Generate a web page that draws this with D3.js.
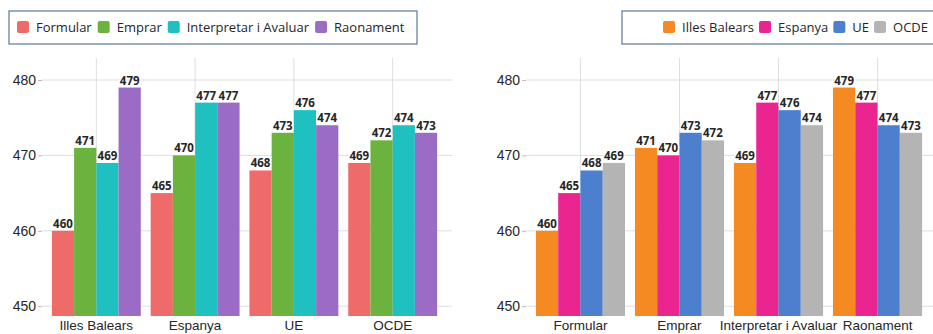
<!DOCTYPE html>
<html>
<head>
<meta charset="utf-8">
<script src="https://cdn.jsdelivr.net/npm/d3@7/dist/d3.min.js"></script>
<style>
  html, body { margin: 0; padding: 0; background: #fff; }
  svg { display: block; font-family: "Open Sans", "Noto Sans", sans-serif; }
</style>
</head>
<body>
<svg id="chart" width="933" height="334"></svg>
<script>
// Competència matemàtica: puntuacions per àmbit i per territori
const regions = ["Illes Balears", "Espanya", "UE", "OCDE"];
const skills = ["Formular", "Emprar", "Interpretar i Avaluar", "Raonament"];

// values per region, in the order of `skills`
const illesBalears = [460, 471, 469, 479];
const espanya = [465, 470, 477, 477];
const ue = [468, 473, 476, 474];
const ocde = [469, 472, 474, 473];

const yTicks = [450, 460, 470, 480];

const skillColors = ["#ef6b69", "#6cb23e", "#1fc0c0", "#9a6cc5"];
const regionColors = ["#f68a22", "#ea2590", "#4c80cf", "#b4b4b4"];

const regionValues = [illesBalears, espanya, ue, ocde];

const svg = d3.select("#chart");
const ink = "#262626";

function drawPanel(opts) {
  const g = svg.append("g");
  const { groups, series, colors, value, xRange, gridRight, legend } = opts;

  const y = d3.scaleLinear().domain([448.7, 480]).range([316, 80]);
  const x0 = d3.scaleBand().domain(groups).range(xRange).paddingInner(0.1).paddingOuter(0.1);
  const x1 = d3.scaleBand().domain(series).range([0, x0.bandwidth()]).padding(0);

  // horizontal grid
  g.append("g").selectAll("line").data(yTicks).join("line")
    .attr("x1", xRange[0]).attr("x2", gridRight)
    .attr("y1", d => y(d)).attr("y2", d => y(d))
    .attr("stroke", "#dedede").attr("stroke-width", 1);

  // vertical grid through group centres
  g.append("g").selectAll("line").data(groups).join("line")
    .attr("x1", d => x0(d) + x0.bandwidth() / 2).attr("x2", d => x0(d) + x0.bandwidth() / 2)
    .attr("y1", 58).attr("y2", 316)
    .attr("stroke", "#dedede").attr("stroke-width", 1);

  // y axis
  const yAxis = d3.axisLeft(y).tickValues(yTicks).tickSize(4).tickPadding(2);
  const ya = g.append("g").attr("transform", `translate(${xRange[0]},0)`).call(yAxis);
  ya.select(".domain").remove();
  ya.selectAll(".tick line").attr("stroke", "#bbb");
  ya.selectAll(".tick text").attr("fill", ink).style("font-size", "14px");

  // x axis labels
  const xAxis = d3.axisBottom(x0).tickSize(0).tickPadding(4);
  const xa = g.append("g").attr("transform", "translate(0,316)").call(xAxis);
  xa.select(".domain").remove();
  xa.selectAll(".tick text").attr("fill", ink).style("font-size", "13.5px");

  // bars
  const grp = g.append("g").selectAll("g").data(groups).join("g")
    .attr("transform", d => `translate(${x0(d)},0)`);

  grp.selectAll("rect").data((gName, gi) => series.map((s, si) => ({ s, si, v: value(gi, si) })))
    .join("rect")
    .attr("x", d => x1(d.s))
    .attr("width", x1.bandwidth())
    .attr("y", d => y(d.v))
    .attr("height", d => 316 - y(d.v))
    .attr("fill", d => colors[d.si]);

  // value labels with white halo
  grp.selectAll("text.val").data((gName, gi) => series.map((s, si) => ({ s, si, v: value(gi, si) })))
    .join("text")
    .attr("class", "val")
    .attr("x", d => x1(d.s) + x1.bandwidth() / 2)
    .attr("y", d => y(d.v) - 3)
    .attr("text-anchor", "middle")
    .style("font-size", "11.5px")
    .style("font-weight", "700")
    .attr("fill", ink)
    .attr("stroke", "#fff").attr("stroke-width", 2.5)
    .attr("paint-order", "stroke")
    .attr("stroke-linejoin", "round")
    .text(d => d.v);

  // legend
  const lg = g.append("g");
  lg.append("rect")
    .attr("x", legend.box[0]).attr("y", 11)
    .attr("width", legend.box[1] - legend.box[0]).attr("height", 33)
    .attr("fill", "#fff").attr("stroke", "#5b7896").attr("stroke-width", 1.2);
  let cx = legend.start;
  series.forEach((s, i) => {
    lg.append("rect")
      .attr("x", cx).attr("y", 21).attr("width", 12).attr("height", 12)
      .attr("rx", 2).attr("fill", colors[i]);
    const t = lg.append("text")
      .attr("x", cx + 19).attr("y", 32)
      .style("font-size", "13px").attr("fill", ink).text(s);
    cx += 19 + t.node().getComputedTextLength() + legend.gap;
  });
}

drawPanel({
  groups: regions,
  series: skills,
  colors: skillColors,
  value: (gi, si) => regionValues[gi][si],
  xRange: [42, 447],
  gridRight: 452,
  legend: { box: [9, 417], start: 17, gap: 6 }
});

drawPanel({
  groups: skills,
  series: regions,
  colors: regionColors,
  value: (gi, si) => regionValues[si][gi],
  xRange: [526, 932],
  gridRight: 933,
  legend: { box: [622, 945], start: 663, gap: 5 }
});
</script>
</body>
</html>
